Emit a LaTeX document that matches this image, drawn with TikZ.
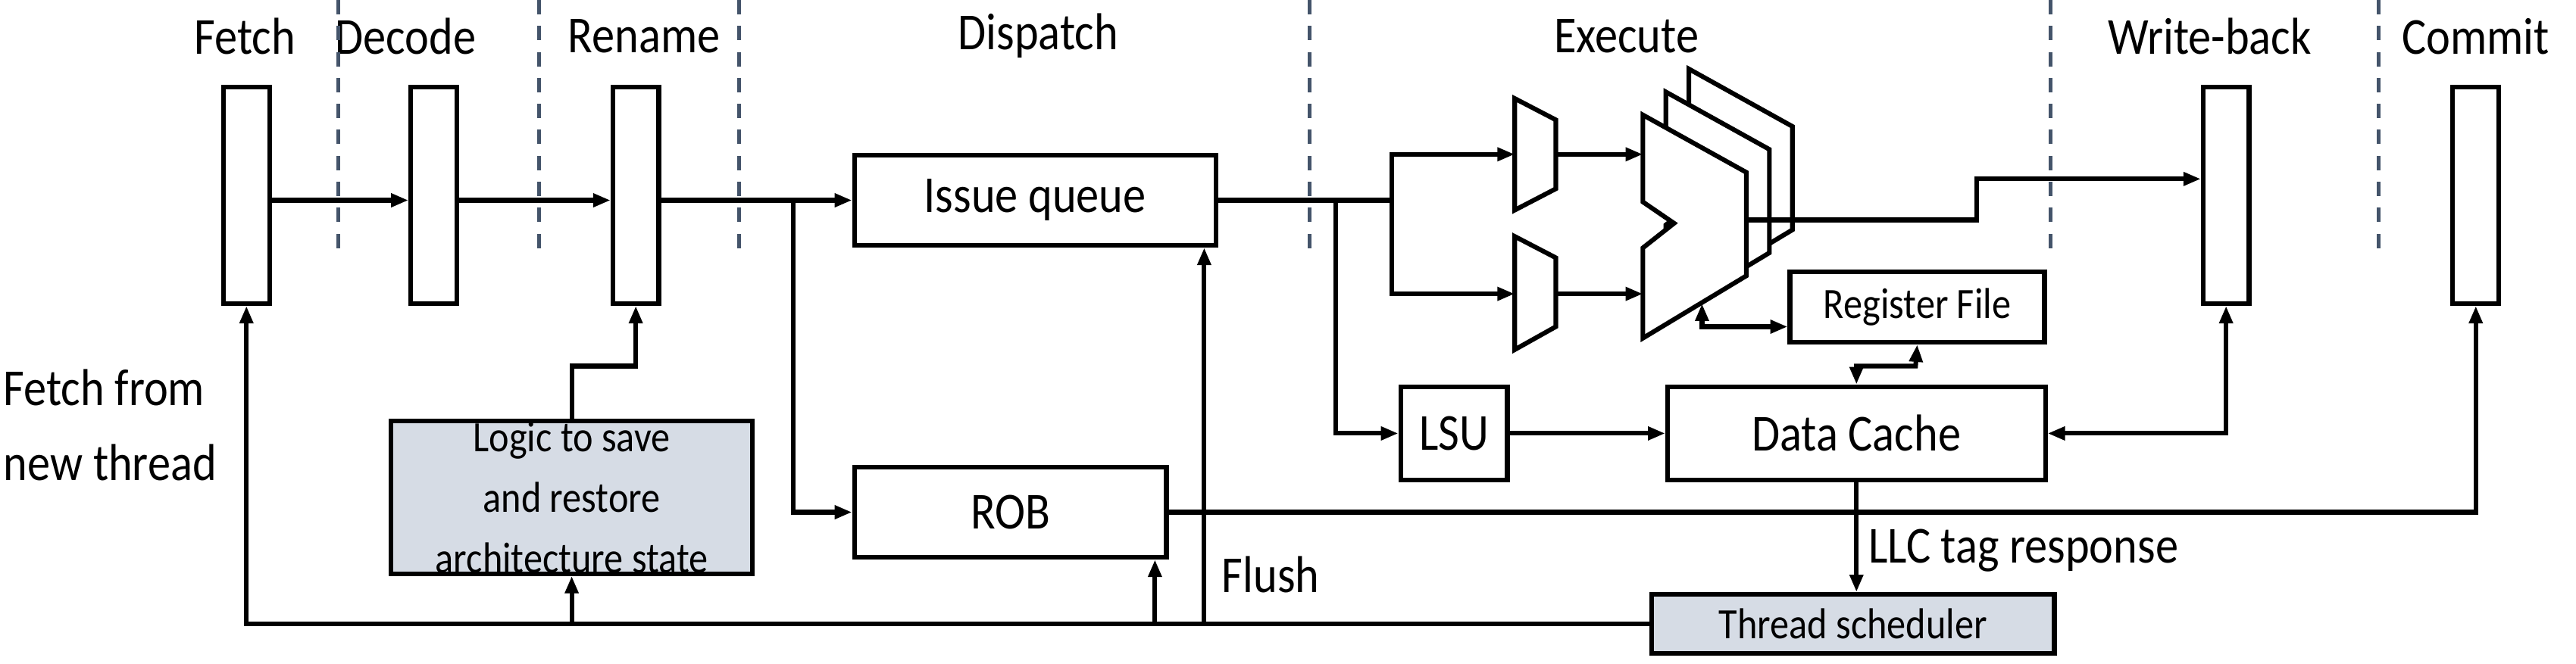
\documentclass[tikz,border=0pt]{standalone}
\usepackage{fontspec}
\setmainfont{Carlito}[FakeStretch=0.88]
\usetikzlibrary{arrows.meta,positioning}
\definecolor{stagegray}{RGB}{68,84,106}
\definecolor{boxfill}{RGB}{214,220,229}
\tikzset{
  wire/.style={line width=1.6pt},
  arr/.style={wire,-{Triangle[length=6pt,width=4.5pt]}},
  darr/.style={wire,{Triangle[length=6pt,width=4.5pt]}-{Triangle[length=6pt,width=4.5pt]}},
  latch/.style={draw,line width=1.6pt,minimum width=0.56cm,minimum height=2.64cm,inner sep=0pt},
  blk/.style={draw,line width=1.6pt,inner sep=0pt,font=\fontsize{18}{20}\selectfont},
  stage/.style={font=\fontsize{18}{20}\selectfont},
  sep/.style={dashed,stagegray,line width=1.3pt,dash pattern=on 5pt off 4pt},
}
\begin{document}
\begin{tikzpicture}[x=0.02cm,y=-0.02cm]
  \useasboundingbox (0,0) rectangle (1568,404);

  % stage names
  \foreach \x/\t in {149/Fetch,247/Decode,392/Rename,632/Dispatch,990/Execute,1345/Write-back,1507/Commit}
    \node[stage] at (\x,22) {\t};
  \foreach \x in {206,328,450,797,1248,1448}
    \draw[sep] (\x,0) -- (\x,155);

  % latches
  \node[latch] (fetch) at (150,119) {};
  \node[latch] (decode) at (264,119) {};
  \node[latch] (rename) at (387,119) {};
  \node[latch] (wb) at (1355,119) {};
  \node[latch] (commit) at (1507,119) {};

  % blocks
  \node[blk,minimum width=4.4cm,minimum height=1.1cm] (iq) at (630,122) {Issue queue};
  \node[blk,minimum width=3.8cm,minimum height=1.1cm] (rob) at (615,312) {ROB};
  \node[blk,minimum width=1.3cm,minimum height=1.14cm] (lsu) at (885,264) {LSU};
  \node[blk,minimum width=4.6cm,minimum height=1.14cm] (dc) at (1130,264) {Data Cache};
  \node[blk,minimum width=3.1cm,minimum height=0.86cm,font=\fontsize{15}{17}\selectfont] (rf) at (1167,187) {Register File};
  \node[blk,fill=boxfill,minimum width=4.4cm,minimum height=1.86cm,align=center,
        font=\fontsize{15}{21}\selectfont] (logic) at (348,303) {Logic to save\\and restore\\architecture state};
  \node[blk,fill=boxfill,minimum width=4.9cm,minimum height=0.72cm,
        font=\fontsize{15}{17}\selectfont] (ts) at (1128,380) {Thread scheduler};

  % muxes
  \draw[wire] (922,60) -- (947,73) -- (947,115) -- (922,128) -- cycle;
  \draw[wire] (922,144) -- (947,157) -- (947,199) -- (922,213) -- cycle;
  % ALUs
  \foreach \d in {28,14,0}
    \draw[wire,fill=white,shift={(\d,-\d)}] (1000,70) -- (1063,105) -- (1063,168) -- (1000,206)
      -- (1000,151) -- (1019,136) -- (1000,123) -- cycle;
  \coordinate (aluout) at (1063,134);
  \coordinate (alubot) at (1036,185);

  % front-end wires
  \draw[arr] (fetch.east |- 0,122) -- (decode.west |- 0,122);
  \draw[arr] (decode.east |- 0,122) -- (rename.west |- 0,122);
  \draw[arr] (rename.east |- 0,122) -- (iq.west);
  \draw[arr] (483,122) |- (rob.west);

  % issue to execute
  \draw[wire] (iq.east) -- (847,122);
  \draw[arr] (847,122) |- (922,94);
  \draw[arr] (847,122) |- (922,179);
  \draw[arr] (947,94) -- (1000,94);
  \draw[arr] (947,179) -- (1000,179);
  \draw[arr] (813,122) |- (lsu.west);
  \draw[arr] (aluout) -- (1203,134) -- (1203,109) -- (wb.west |- 0,109);
  \draw[darr] (alubot) |- (rf.west |- 0,199);
  \draw[darr] (rf.south) -- (1166,223) -- (1130,223) -- (dc.north -| 1130,0);
  \draw[arr] (lsu) -- (dc);
  \draw[darr] (dc.east) -| (wb.south);
  \draw[arr] (rob.east) -| (commit.south);
  \draw[arr] (dc.south -| 1130,0) -- (ts.north -| 1130,0)
    node[pos=0.62,right,font=\fontsize{18}{20}\selectfont] {LLC tag response};

  % scheduler feedback
  \draw[arr] (ts.west) -| (fetch.south);
  \draw[arr] (348,380) -- (logic.south);
  \draw[arr] (703,380) -- (rob.south -| 703,0);
  \draw[arr] (733,380) -- (iq.south -| 733,0)
    node[pos=0.13,right=2pt,font=\fontsize{18}{20}\selectfont] {Flush};
  \draw[arr] (logic.north) -- (348,223) -- (387,223) -- (rename.south);

  \node[font=\fontsize{18}{20}\selectfont,align=left,anchor=west] (newthr) at (-4,259)
    {Fetch from\\[6pt]new thread};
\end{tikzpicture}
\end{document}
